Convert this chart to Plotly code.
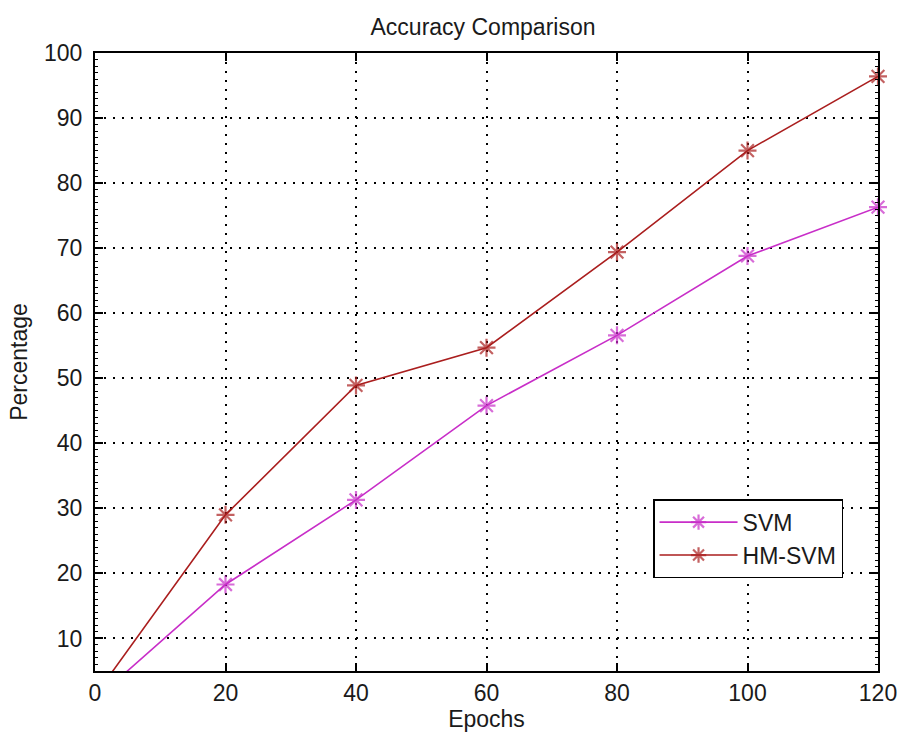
import plotly.graph_objects as go

epochs = [0, 20, 40, 60, 80, 100, 120]
svm = [0.6, 18.3, 31.3, 45.8, 56.6, 68.8, 76.3]
hm_svm = [1.2, 29.0, 48.9, 54.7, 69.4, 85.0, 96.4]
series_names = ["SVM", "HM-SVM"]
x_ticks = [0, 20, 40, 60, 80, 100, 120]
y_ticks = [10, 20, 30, 40, 50, 60, 70, 80, 90, 100]

Y_MIN, Y_MAX = 5, 100
FONT = "Liberation Sans, Arial, sans-serif"
FS = 23
TXT = "#1a1a1a"

W, H = 897, 734

fig = go.Figure()
for name, vals, color in [(series_names[0], svm, "#C82EC8"), (series_names[1], hm_svm, "#AA1E1E")]:
    fig.add_trace(go.Scatter(
        x=epochs, y=vals, name=name, mode="lines+markers",
        line=dict(color=color, width=1.6),
        marker=dict(symbol="asterisk-open", size=[0 if v < Y_MIN else 15 for v in vals],
                    color=color, line=dict(color=color, width=2.2)),
        cliponaxis=False,
    ))

axis_common = dict(
    showline=True, linecolor="black", linewidth=2, mirror="allticks",
    ticks="inside", ticklen=8, tickwidth=2, tickcolor="black",
    showgrid=True, gridcolor="black", gridwidth=1.5, griddash="2px,7px",
    zeroline=False, tickfont=dict(family=FONT, size=FS, color=TXT),
    ticklabeloverflow="allow", automargin=False,
)

fig.update_xaxes(range=[0, 120], tickvals=x_ticks, ticktext=[str(t) for t in x_ticks],
                 title=dict(text="Epochs", font=dict(family=FONT, size=FS, color=TXT), standoff=6),
                 **axis_common)
fig.update_yaxes(range=[Y_MIN, Y_MAX], tickvals=y_ticks, ticktext=[str(t) for t in y_ticks],
                 title=dict(text="Percentage", font=dict(family=FONT, size=FS, color=TXT), standoff=10),
                 minor=dict(dtick=1, tick0=0, ticks="inside", ticklen=3, tickcolor="black", tickwidth=1, showgrid=False),
                 ticklabelstandoff=6,
                 **axis_common)

fig.update_layout(
    width=W, height=H,
    margin=dict(l=95, r=19, t=53, b=63),
    paper_bgcolor="white", plot_bgcolor="white",
    title=dict(text="Accuracy Comparison", x=483 / W, xanchor="center", y=1 - 27 / H, yanchor="middle",
               xref="container", yref="container", font=dict(family=FONT, size=FS, color=TXT)),
    legend=dict(x=0.7127, y=0.278, xanchor="left", yanchor="top",
                bgcolor="white", bordercolor="black", borderwidth=1.5,
                font=dict(family=FONT, size=FS, color=TXT), itemwidth=78,
                tracegroupgap=0),
    showlegend=True,
)

fig.write_html("out.html", config={"displayModeBar": False},
               post_script="document.body.style.margin='0';document.body.style.overflow='hidden';")
